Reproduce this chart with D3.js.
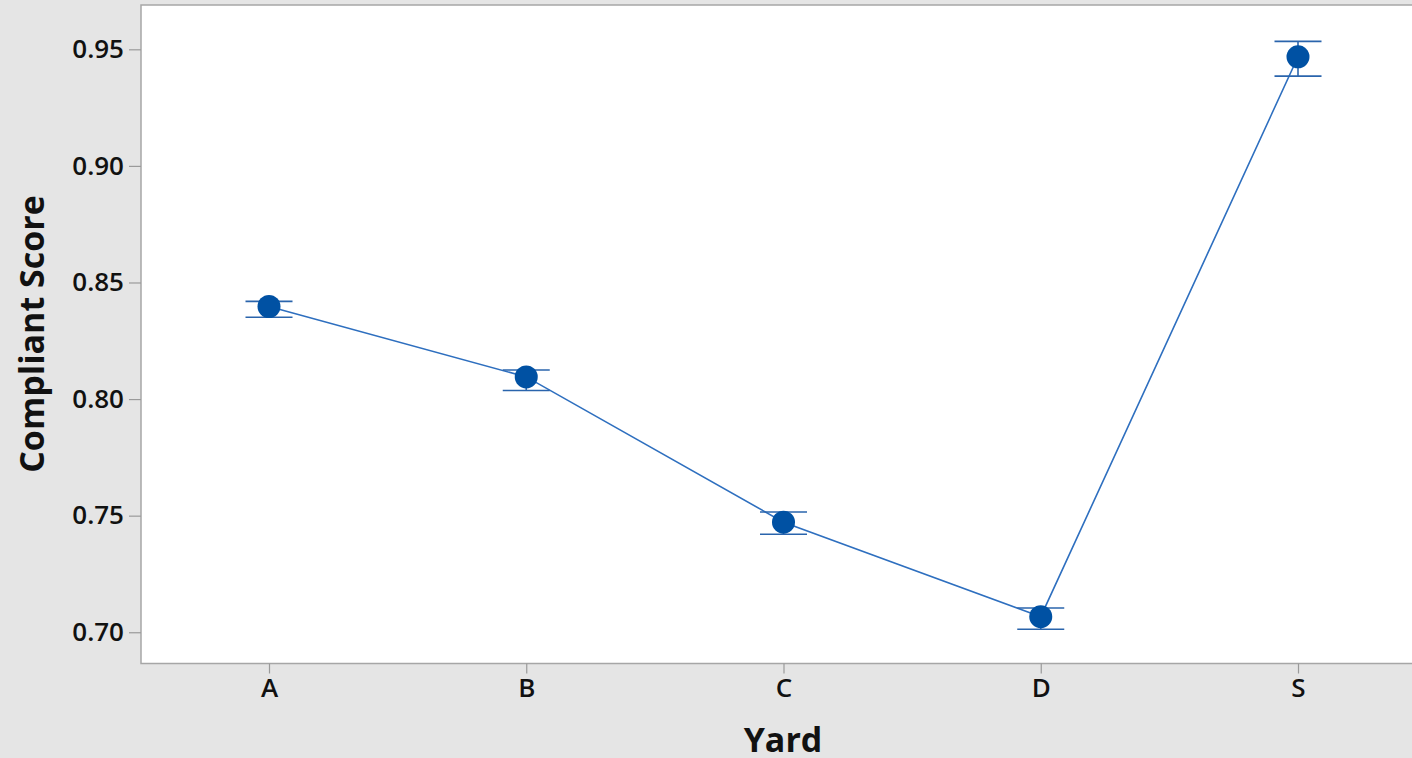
<!DOCTYPE html>
<html>
<head>
<meta charset="utf-8">
<script src="https://cdn.jsdelivr.net/npm/d3@7"></script>
<style>
  html, body { margin: 0; padding: 0; background: #e5e5e5; }
  svg { display: block; }
  text { font-family: "Open Sans", "Noto Sans", sans-serif; fill: #111; }
</style>
</head>
<body>
<svg id="chart" width="1412" height="758"></svg>
<script>
// Mean compliant score per yard with error bars
const yards = ["A", "B", "C", "D", "S"];
const means = [0.8397, 0.8095, 0.7472, 0.7067, 0.9468];
const upper = [0.8419, 0.8125, 0.7516, 0.7104, 0.9534];
const lower = [0.8351, 0.8037, 0.7420, 0.7013, 0.9385];
const yTicks = [0.70, 0.75, 0.80, 0.85, 0.90, 0.95];

const svg = d3.select("#chart");
const plot = { left: 141, top: 5, right: 1420, bottom: 663.5 };

const x = d3.scalePoint()
  .domain(yards)
  .range([269, 1298]);

const y = d3.scaleLinear()
  .domain([0.6866, 0.969])
  .range([plot.bottom, plot.top]);

// plot panel
svg.append("rect")
  .attr("x", plot.left)
  .attr("y", plot.top)
  .attr("width", plot.right - plot.left)
  .attr("height", plot.bottom - plot.top)
  .attr("fill", "#fff")
  .attr("stroke", "#a6a6a6")
  .attr("stroke-width", 1.5);

// y axis
const yAxis = d3.axisLeft(y)
  .tickValues(yTicks)
  .tickFormat(d3.format(".2f"))
  .tickSize(12)
  .tickPadding(5);
const gy = svg.append("g")
  .attr("transform", `translate(${plot.left},0)`)
  .call(yAxis);
gy.select(".domain").remove();
gy.selectAll(".tick line").attr("stroke", "#9a9a9a").attr("stroke-width", 1.2);
gy.selectAll(".tick text").attr("font-size", 26).attr("font-weight", 600).attr("fill", "#111");

// x axis
const xAxis = d3.axisBottom(x).tickSize(10).tickPadding(5);
const gx = svg.append("g")
  .attr("transform", `translate(0,${plot.bottom})`)
  .call(xAxis);
gx.select(".domain").remove();
gx.selectAll(".tick line").attr("stroke", "#9a9a9a").attr("stroke-width", 1.2);
gx.selectAll(".tick text").attr("font-size", 26).attr("font-weight", 600).attr("fill", "#111");

// axis titles
svg.append("text")
  .attr("x", 783)
  .attr("y", 752)
  .attr("text-anchor", "middle")
  .attr("font-size", 34)
  .attr("font-weight", "bold")
  .text("Yard");

svg.append("text")
  .attr("transform", "translate(44,334) rotate(-90)")
  .attr("text-anchor", "middle")
  .attr("font-size", 34)
  .attr("font-weight", "bold")
  .text("Compliant Score");

const data = yards.map((k, i) => ({ k, m: means[i], hi: upper[i], lo: lower[i] }));

// connecting line
svg.append("path")
  .datum(data)
  .attr("fill", "none")
  .attr("stroke", "#2e6fbf")
  .attr("stroke-width", 1.6)
  .attr("d", d3.line().x(d => x(d.k)).y(d => y(d.m)));

// error bars
const eb = svg.append("g").attr("stroke", "#2a64ac").attr("stroke-width", 1.6);
const capHalf = 23.5;
eb.selectAll("line.v").data(data).join("line")
  .attr("x1", d => x(d.k)).attr("x2", d => x(d.k))
  .attr("y1", d => y(d.hi)).attr("y2", d => y(d.lo));
eb.selectAll("line.hi").data(data).join("line")
  .attr("x1", d => x(d.k) - capHalf).attr("x2", d => x(d.k) + capHalf)
  .attr("y1", d => y(d.hi)).attr("y2", d => y(d.hi));
eb.selectAll("line.lo").data(data).join("line")
  .attr("x1", d => x(d.k) - capHalf).attr("x2", d => x(d.k) + capHalf)
  .attr("y1", d => y(d.lo)).attr("y2", d => y(d.lo));

// mean markers
svg.append("g").selectAll("circle").data(data).join("circle")
  .attr("cx", d => x(d.k))
  .attr("cy", d => y(d.m))
  .attr("r", 11.5)
  .attr("fill", "#0051a3");
</script>
</body>
</html>
